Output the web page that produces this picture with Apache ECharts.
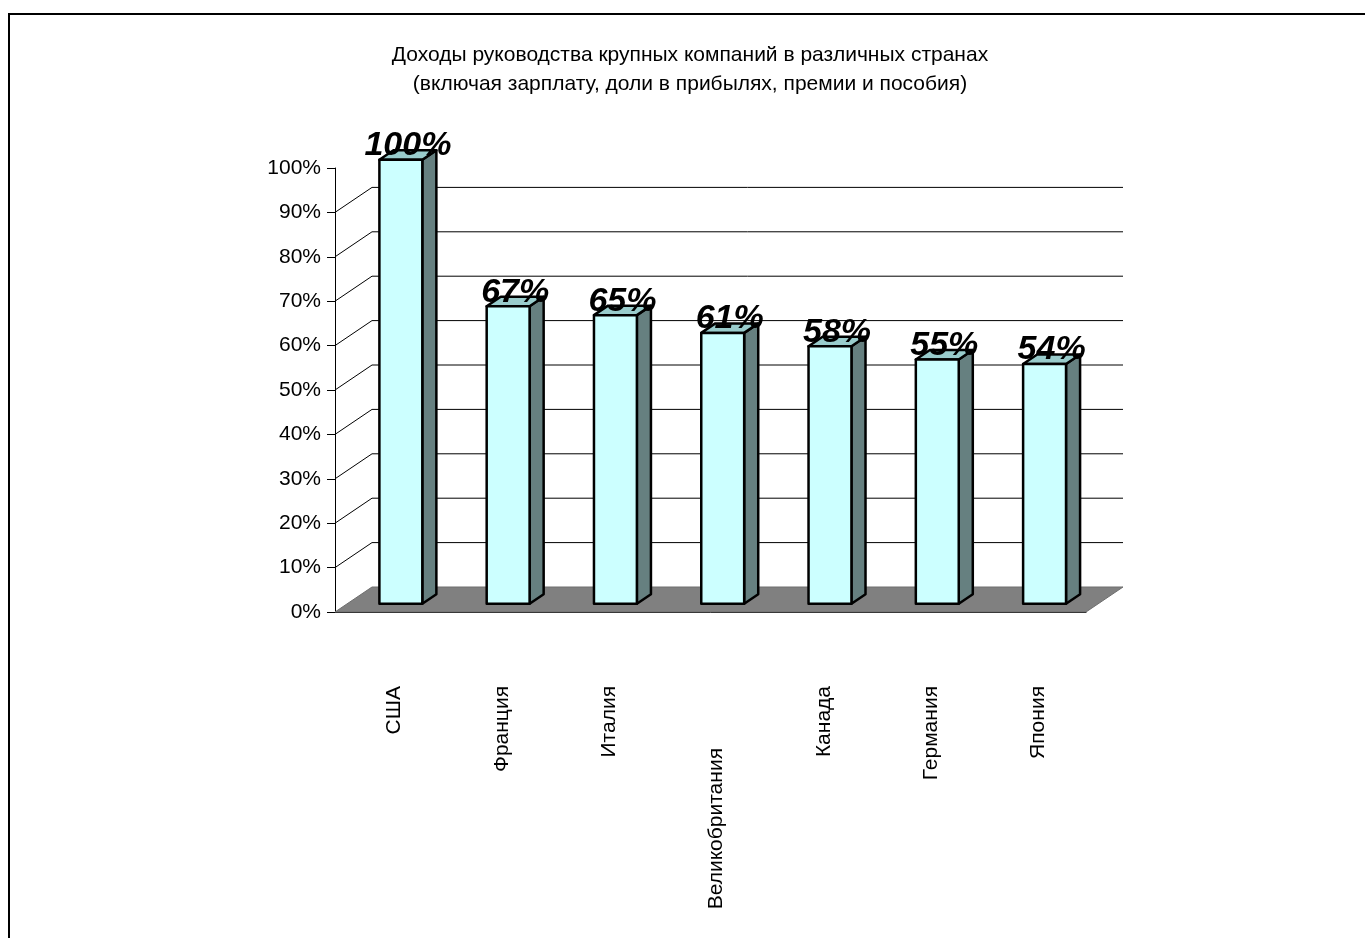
<!DOCTYPE html>
<html>
<head>
<meta charset="utf-8">
<script src="https://cdn.jsdelivr.net/npm/echarts@6/dist/echarts.min.js"></script>
<style>
  html, body { margin: 0; padding: 0; background: #fff; }
  #chart { width: 1365px; height: 938px; }
</style>
</head>
<body>
<div id="chart"></div>
<script>
  // данные
  var categories = ['США', 'Франция', 'Италия', 'Великобритания', 'Канада', 'Германия', 'Япония'];
  var values = [100, 67, 65, 61, 58, 55, 54];
  var wallTicks = [10, 20, 30, 40, 50, 60, 70, 80, 90];

  // смещение задней стенки (псевдо-3D как в Excel)
  var DX = 37, DY = -25;
  var FRONT = 0.33, DEPTH = 0.38;

  var chart = echarts.init(document.getElementById('chart'));

  function wallItem(params, api) {
    var cs = params.coordSys;
    var y = api.coord([0, api.value(1)])[1];
    return {
      type: 'group',
      children: [
        { type: 'line', shape: { x1: cs.x, y1: y, x2: cs.x + DX, y2: y + DY },
          style: { stroke: '#000', lineWidth: 1 } },
        { type: 'line', shape: { x1: cs.x + DX, y1: y + DY, x2: cs.x + cs.width + DX, y2: y + DY },
          style: { stroke: '#000', lineWidth: 1 } }
      ]
    };
  }

  function floorItem(params, api) {
    var cs = params.coordSys;
    var y0 = api.coord([0, 0])[1];
    return {
      type: 'polygon',
      shape: { points: [[cs.x, y0], [cs.x + cs.width, y0], [cs.x + cs.width + DX, y0 + DY], [cs.x + DX, y0 + DY]] },
      style: { fill: '#808080', stroke: '#6e6e6e', lineWidth: 1 }
    };
  }

  function barItem(params, api) {
    var i = api.value(0), v = api.value(1);
    var p0 = api.coord([i, 0]);
    var p1 = api.coord([i, v]);
    var w = api.size([1, 0])[0] * 0.4;
    var fx = FRONT * DX, fy = FRONT * DY;
    var sx = DEPTH * DX, sy = DEPTH * DY;
    var l = p0[0] - w / 2 + fx, r = l + w;
    var b = p0[1] + fy, t = p1[1] + fy;
    var edge = { stroke: '#000', lineWidth: 2.5, lineJoin: 'round' };
    return {
      type: 'group',
      children: [
        { type: 'polygon', shape: { points: [[r, b], [r + sx, b + sy], [r + sx, t + sy], [r, t]] },
          style: Object.assign({ fill: '#668080' }, edge) },
        { type: 'polygon', shape: { points: [[l, t], [r, t], [r + sx, t + sy], [l + sx, t + sy]] },
          style: Object.assign({ fill: '#99cccc' }, edge) },
        { type: 'rect', shape: { x: l, y: t, width: w, height: b - t },
          style: Object.assign({ fill: '#ccffff' }, edge) },
        { type: 'text', x: (l + r + sx) / 2, y: t + 3,
          style: { text: v + '%', fill: '#000', font: 'italic bold 34px "Liberation Sans", Arial, sans-serif',
                   align: 'center', verticalAlign: 'bottom' } }
      ]
    };
  }

  chart.setOption({
    backgroundColor: '#fff',
    animation: false,
    textStyle: { fontFamily: '"Liberation Sans", Arial, sans-serif' },
    title: {
      text: 'Доходы руководства крупных компаний в различных странах\n(включая зарплату, доли в прибылях, премии и пособия)',
      left: 685, top: 36, textAlign: 'center',
      textStyle: { fontSize: 21, fontWeight: 'normal', color: '#000', lineHeight: 29 }
    },
    graphic: [{
      type: 'rect', shape: { x: 9, y: 14, width: 1400, height: 1000 },
      style: { fill: 'none', stroke: '#000', lineWidth: 2 }, z: -10
    }],
    grid: { left: 335, right: 279, top: 168, bottom: 326 },
    xAxis: {
      type: 'category',
      data: categories,
      axisLine: { lineStyle: { color: '#000', width: 1 } },
      axisTick: { length: 12, lineStyle: { color: '#000' } },
      axisLabel: {
        rotate: 90, margin: 74, color: '#000', fontSize: 21, interval: 0,
        formatter: function (s) { return s === 'Великобритания' ? '{far|' + s + '}' : '{n|' + s + '}'; },
        rich: {
          n: { fontSize: 21, padding: [12, 0, 0, 0] },
          far: { fontSize: 21, padding: [12, 62, 0, 0] }
        }
      }
    },
    yAxis: {
      type: 'value', min: 0, max: 100, interval: 10,
      axisLine: { show: true, lineStyle: { color: '#000', width: 1 } },
      axisTick: { show: true, length: 8, lineStyle: { color: '#000' } },
      axisLabel: { formatter: '{value}%', color: '#000', fontSize: 21, margin: 14 },
      splitLine: { show: false }
    },
    series: [
      { type: 'custom', renderItem: wallItem, z: 1, silent: true,
        data: wallTicks.map(function (v) { return [0, v]; }) },
      { type: 'custom', renderItem: floorItem, data: [[0, 0]], z: 2, silent: true },
      { type: 'custom', renderItem: barItem, z: 3,
        data: values.map(function (v, i) { return [i, v]; }) }
    ]
  });
</script>
</body>
</html>
